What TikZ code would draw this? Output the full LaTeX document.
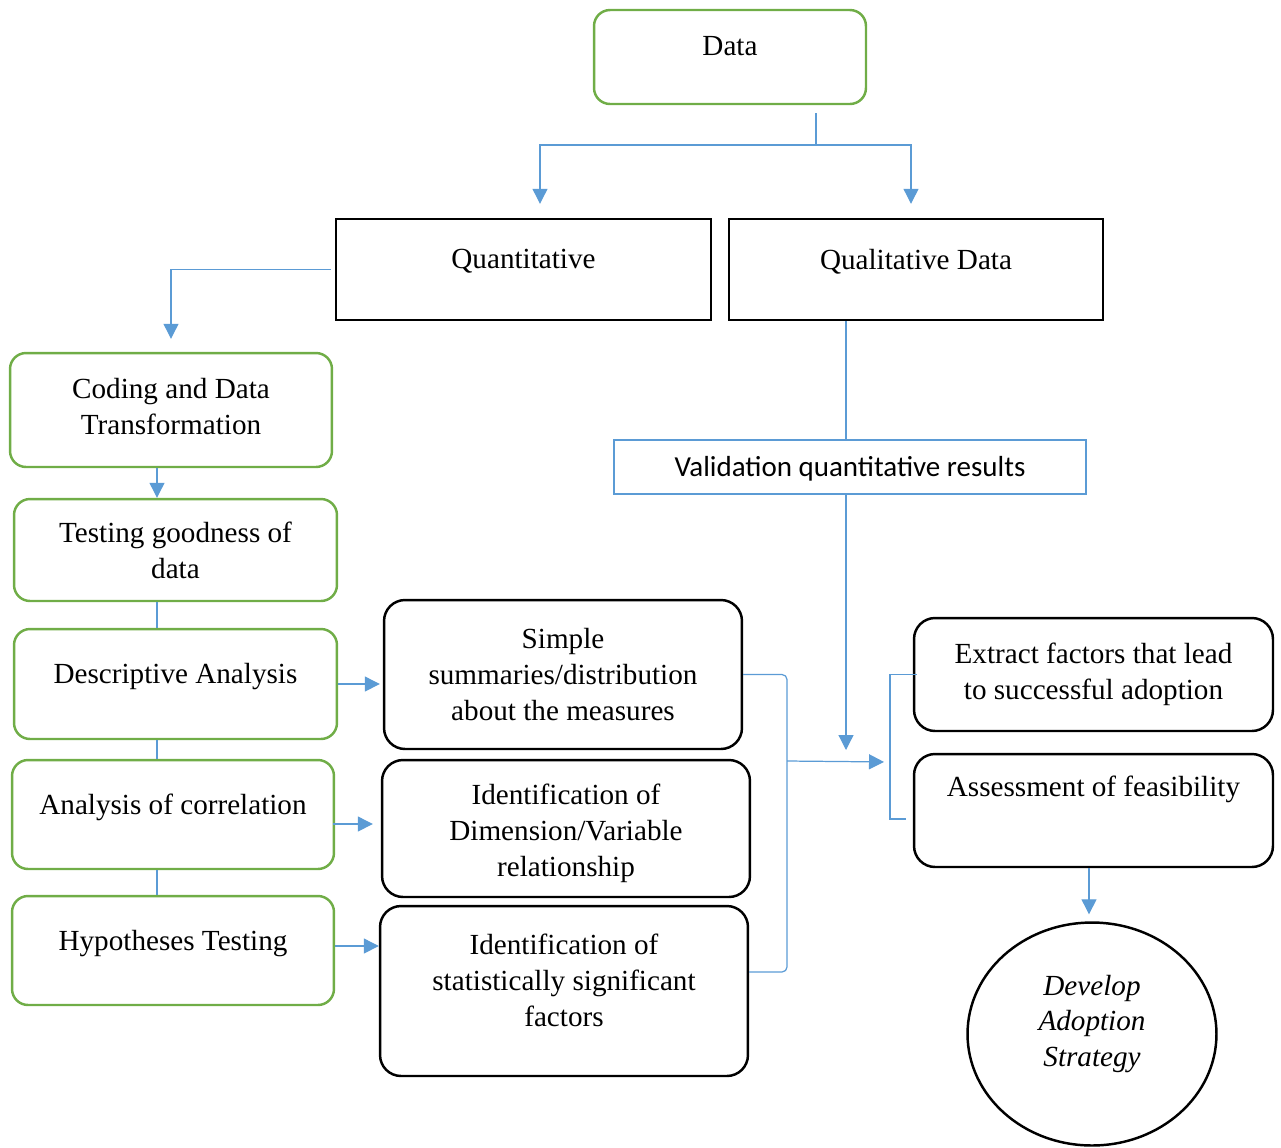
\documentclass[tikz,border=0pt]{standalone}
\usepackage{fontspec}
\setmainfont{Liberation Serif}
\newfontfamily\calibri{Carlito}
\usetikzlibrary{arrows.meta,shapes.geometric}
\definecolor{leaf}{RGB}{112,173,71}
\definecolor{wire}{RGB}{91,155,213}
\tikzset{
  greenbox/.style={draw=leaf, line width=1.4pt, rounded corners=0.32cm, align=center},
  blackbox/.style={draw=black, line width=1.4pt, rounded corners=0.42cm, align=center},
  plainbox/.style={draw=black, line width=1.4pt, align=center},
  wireline/.style={draw=wire, line width=0.7pt},
  flow/.style={wireline, -{Triangle[width=0.3cm,length=0.3cm]}},
  lift/.style={text depth=#1},
}
\begin{document}
\begin{tikzpicture}[x=0.02cm, y=-0.02cm, font=\fontsize{16.6}{20.4}\selectfont]
    \useasboundingbox (0,0) rectangle (1281,1147);
    % top
    \node[greenbox, minimum width=5.44cm, minimum height=1.88cm, lift=13pt] (data) at (730,57) {Data};
    \node[plainbox, minimum width=7.5cm, minimum height=2.02cm, lift=11.6pt] (quant) at (523.5,269.5) {Quantitative};
    \node[plainbox, minimum width=7.48cm, minimum height=2.02cm, lift=11.6pt] (qual) at (916,269.5) {Qualitative Data};
    % quantitative branch
    \node[greenbox, minimum width=6.44cm, minimum height=2.28cm, lift=4.5pt] (coding) at (171,410) {Coding and Data\\Transformation};
    \node[greenbox, minimum width=6.46cm, minimum height=2.04cm] (testing) at (175.5,550) {Testing goodness of\\data};
    \node[greenbox, minimum width=6.46cm, minimum height=2.2cm, lift=11.6pt] (descr) at (175.5,684) {Descriptive Analysis};
    \node[greenbox, minimum width=6.44cm, minimum height=2.18cm, lift=11.6pt] (correl) at (173,814.5) {Analysis of correlation};
    \node[greenbox, minimum width=6.44cm, minimum height=2.18cm, lift=11.6pt] (hypo) at (173,950.5) {Hypotheses Testing};
    \node[blackbox, minimum width=7.16cm, minimum height=2.98cm] (summ) at (563,674.5) {Simple\\summaries/distribution\\about the measures};
    \node[blackbox, minimum width=7.36cm, minimum height=2.74cm, text height=57.8pt] (dimen) at (566,828.5) {Identification of\\Dimension/Variable\\relationship};
    \node[blackbox, minimum width=7.36cm, minimum height=3.4cm, lift=12.5pt] (signif) at (564,991) {Identification of\\statistically significant\\factors};
    % qualitative branch
    \node[draw=wire, line width=1.4pt, minimum width=9.44cm, minimum height=1.08cm, text height=14pt, font=\calibri\fontsize{16.5}{20}\selectfont] (valid) at (850,467) {Validation quantitative results};
    \node[blackbox, minimum width=7.18cm, minimum height=2.26cm] (extract) at (1093.5,674.5) {Extract factors that lead\\to successful adoption};
    \node[blackbox, minimum width=7.18cm, minimum height=2.26cm, lift=28pt] (assess) at (1093.5,810.5) {Assessment of feasibility};
    \node[ellipse, draw=black, line width=1.4pt, minimum width=4.98cm, minimum height=4.46cm, align=center, font=\itshape\fontsize{16.6}{20.4}\selectfont, lift=15pt] (strategy) at (1092,1034) {Develop\\Adoption\\Strategy};
    % connectors
    \coordinate (split) at (816,145);
    \coordinate (spine) at (157,0);
    \coordinate (join) at (787,761);
    \coordinate (merge) at (890,762);
    \coordinate (drop) at (846,750);
    \draw[wireline, shorten <=0.16cm] (data.south -| split) -- (split);
    \draw[flow, shorten >=0.28cm] (split) -| ([xshift=0.33cm]quant.north);
    \draw[flow, shorten >=0.28cm] (split) -| ([xshift=-0.1cm]qual.north);
    \draw[flow, shorten >=0.26cm, shorten <=0.08cm] (quant.west) -| (coding.north);
    \draw[flow] (coding.south -| spine) -- (testing.north -| spine);
    \draw[wireline] (testing.south -| spine) -- (descr.north -| spine);
    \draw[wireline] (descr.south -| spine) -- (correl.north -| spine);
    \draw[wireline] (correl.south -| spine) -- (hypo.north -| spine);
    \draw[flow, shorten >=0.06cm] (descr.east) -- (descr.east -| summ.west);
    \draw[flow, shorten >=0.16cm, shorten <=-0.04cm] ([yshift=-0.19cm]correl.east) -- ([yshift=-0.19cm]correl.east -| dimen.west);
    \draw[flow] ([yshift=0.09cm]hypo.east) -- ([yshift=0.09cm]hypo.east -| signif.west);
    \draw[wireline, rounded corners=0.1cm] (summ.east) -| (join) |- ([yshift=0.38cm]signif.east);
    \draw[flow, shorten >=0.12cm] (join) -- (merge);
    \draw[wireline] ([xshift=0.08cm]extract.west) -| (merge) |- ([xshift=-0.14cm, yshift=-0.17cm]assess.west);
    \draw[wireline] (qual.south -| drop) -- (valid.north -| drop);
    \draw[flow] (valid.south -| drop) -- (drop);
    \draw[flow, shorten >=0.14cm] (assess.south -| 1089,0) -- (strategy.north -| 1089,0);
\end{tikzpicture}
\end{document}
